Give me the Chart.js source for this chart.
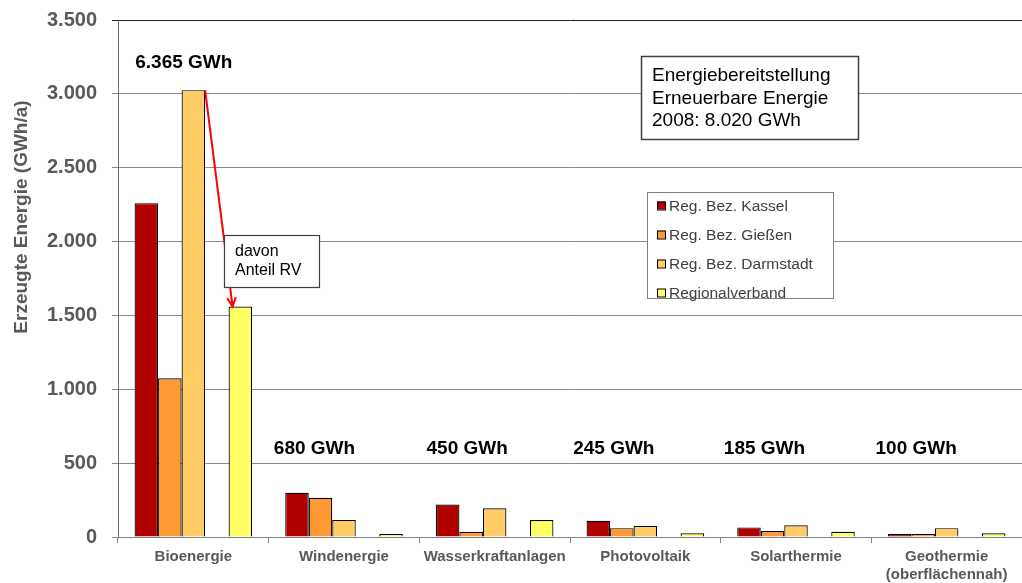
<!DOCTYPE html>
<html><head><meta charset="utf-8">
<script src="https://cdn.jsdelivr.net/npm/chart.js@4"></script>
<style>html,body{margin:0;padding:0;background:#fff}#wrap{position:relative;width:1022px;height:583px}</style>
</head><body><div id="wrap"><canvas id="c"></canvas></div>
<script>
const categories = ['Bioenergie','Windenergie','Wasserkraftanlagen','Photovoltaik','Solarthermie',['Geothermie','(oberflächennah)']];
const seriesNames = ['Reg. Bez. Kassel','Reg. Bez. Gießen','Reg. Bez. Darmstadt','Regionalverband'];
const kassel = [2260,300,220,110,65,20];
const giessen = [1075,265,35,60,40,20];
const darmstadt = [3025,115,195,75,80,60];
const regionalverband = [1560,20,115,25,35,25];
const totals = ['6.365 GWh','680 GWh','450 GWh','245 GWh','185 GWh','100 GWh'];
const yTickValues = [0,500,1000,1500,2000,2500,3000,3500];
const infoLines = ['Energiebereitstellung','Erneuerbare Energie','2008: 8.020 GWh'];
const noteLines = ['davon','Anteil RV'];
const yTitle = 'Erzeugte Energie (GWh/a)';

const colors = ['#B00000','#FF9933','#FFCC66','#FFFF66'];
const FONT = '"Liberation Sans", Arial, sans-serif';
const fmt = v => String(v).replace(/\B(?=(\d{3})+(?!\d))/g,'.');

// annotation placement (pixels / data units for labels)
const totalLabelDx = [14,-6,-4,-8,-8,-7];
const totalLabelY = [3210,600,600,600,600,600];

function drawBox(ctx,x,y,w,h,stroke,lw){
  ctx.fillStyle='#fff'; ctx.fillRect(x,y,w,h);
  ctx.strokeStyle=stroke; ctx.lineWidth=lw; ctx.strokeRect(x+0.5,y+0.5,w,h);
}

const overlay = {
  id:'overlay',
  afterDatasetsDraw(chart){
    const ctx=chart.ctx, ys=chart.scales.y;
    ctx.save();
    ctx.font='bold 19px '+FONT; ctx.fillStyle='#000';
    ctx.textAlign='center'; ctx.textBaseline='middle';
    const mG=chart.getDatasetMeta(1).data;
    totals.forEach((t,i)=>{ ctx.fillText(t, mG[i].x+totalLabelDx[i], ys.getPixelForValue(totalLabelY[i])); });

    const d=chart.getDatasetMeta(2).data[0], r=chart.getDatasetMeta(4).data[0];
    const x0=d.x+d.width/2, y0=d.y, x1=r.x-r.width/2+4, y1=r.y;
    ctx.strokeStyle='#FF0000'; ctx.lineWidth=2;
    ctx.beginPath(); ctx.moveTo(x0,y0); ctx.lineTo(x1,y1); ctx.stroke();
    const a=Math.atan2(y1-y0,x1-x0), L=10;
    ctx.beginPath();
    ctx.moveTo(x1-L*Math.cos(a-0.45), y1-L*Math.sin(a-0.45));
    ctx.lineTo(x1,y1);
    ctx.lineTo(x1-L*Math.cos(a+0.45), y1-L*Math.sin(a+0.45));
    ctx.stroke();

    drawBox(ctx,224,235,95,52,'#404040',1.2);
    ctx.font='16px '+FONT; ctx.fillStyle='#000'; ctx.textAlign='left';
    noteLines.forEach((s,i)=>ctx.fillText(s,235,252+i*18.5));

    drawBox(ctx,641,56,217,83,'#404040',1.5);
    ctx.font='19px '+FONT; ctx.fillStyle='#000';
    infoLines.forEach((s,i)=>ctx.fillText(s,652,76+i*22.5));

    drawBox(ctx,647,192,186,106,'#808080',1);
    ctx.font='15.5px '+FONT;
    seriesNames.forEach((s,i)=>{
      const cy=205.5+i*29;
      ctx.fillStyle=colors[i]; ctx.fillRect(657,cy-4,8,8);
      ctx.strokeStyle='#000'; ctx.lineWidth=1; ctx.strokeRect(657.5,cy-3.5,8,8);
      ctx.fillStyle='#404040'; ctx.fillText(s,669,cy+1);
    });

    ctx.translate(22,217); ctx.rotate(-Math.PI/2);
    ctx.font='bold 19px '+FONT; ctx.fillStyle='#595959'; ctx.textAlign='center';
    ctx.fillText(yTitle,0,0);
    ctx.restore();
  }
};

const ds = (label,data,color)=>({label,data,backgroundColor:color,borderColor:'#000',borderWidth:1.2,borderSkipped:'bottom'});
new Chart(document.getElementById('c'),{
  type:'bar',
  data:{
    labels:categories,
    datasets:[
      ds(seriesNames[0],kassel,colors[0]),
      ds(seriesNames[1],giessen,colors[1]),
      ds(seriesNames[2],darmstadt,colors[2]),
      {label:'',data:categories.map(()=>null)},
      ds(seriesNames[3],regionalverband,colors[3])
    ]
  },
  options:{
    responsive:true, maintainAspectRatio:false, animation:false,
    layout:{padding:{top:20,left:0,right:0,bottom:0}},
    categoryPercentage:0.78, barPercentage:1,
    plugins:{legend:{display:false},tooltip:{enabled:false}},
    scales:{
      x:{
        grid:{offset:true,drawOnChartArea:false,drawTicks:true,tickLength:6,color:'#808080'},
        border:{color:'#808080'},
        ticks:{font:{family:FONT,size:15,weight:'bold'},color:'#595959',padding:5,maxRotation:0,autoSkip:false},
        afterFit(s){s.height=46;s.paddingLeft=0;s.paddingRight=0;}
      },
      y:{
        min:0,max:3500,
        afterBuildTicks(s){s.ticks=yTickValues.map(v=>({value:v}));},
        ticks:{callback:v=>fmt(v),font:{family:FONT,size:20,weight:'bold'},color:'#595959',padding:15},
        grid:{color:c=>c.tick&&c.tick.value===3500?'#222':'#8a8a8a',tickLength:6},
        border:{color:'#6e6e6e'},
        afterFit(s){s.width=118;s.paddingTop=0;s.paddingBottom=0;}
      }
    }
  },
  plugins:[overlay]
});
</script></body></html>
